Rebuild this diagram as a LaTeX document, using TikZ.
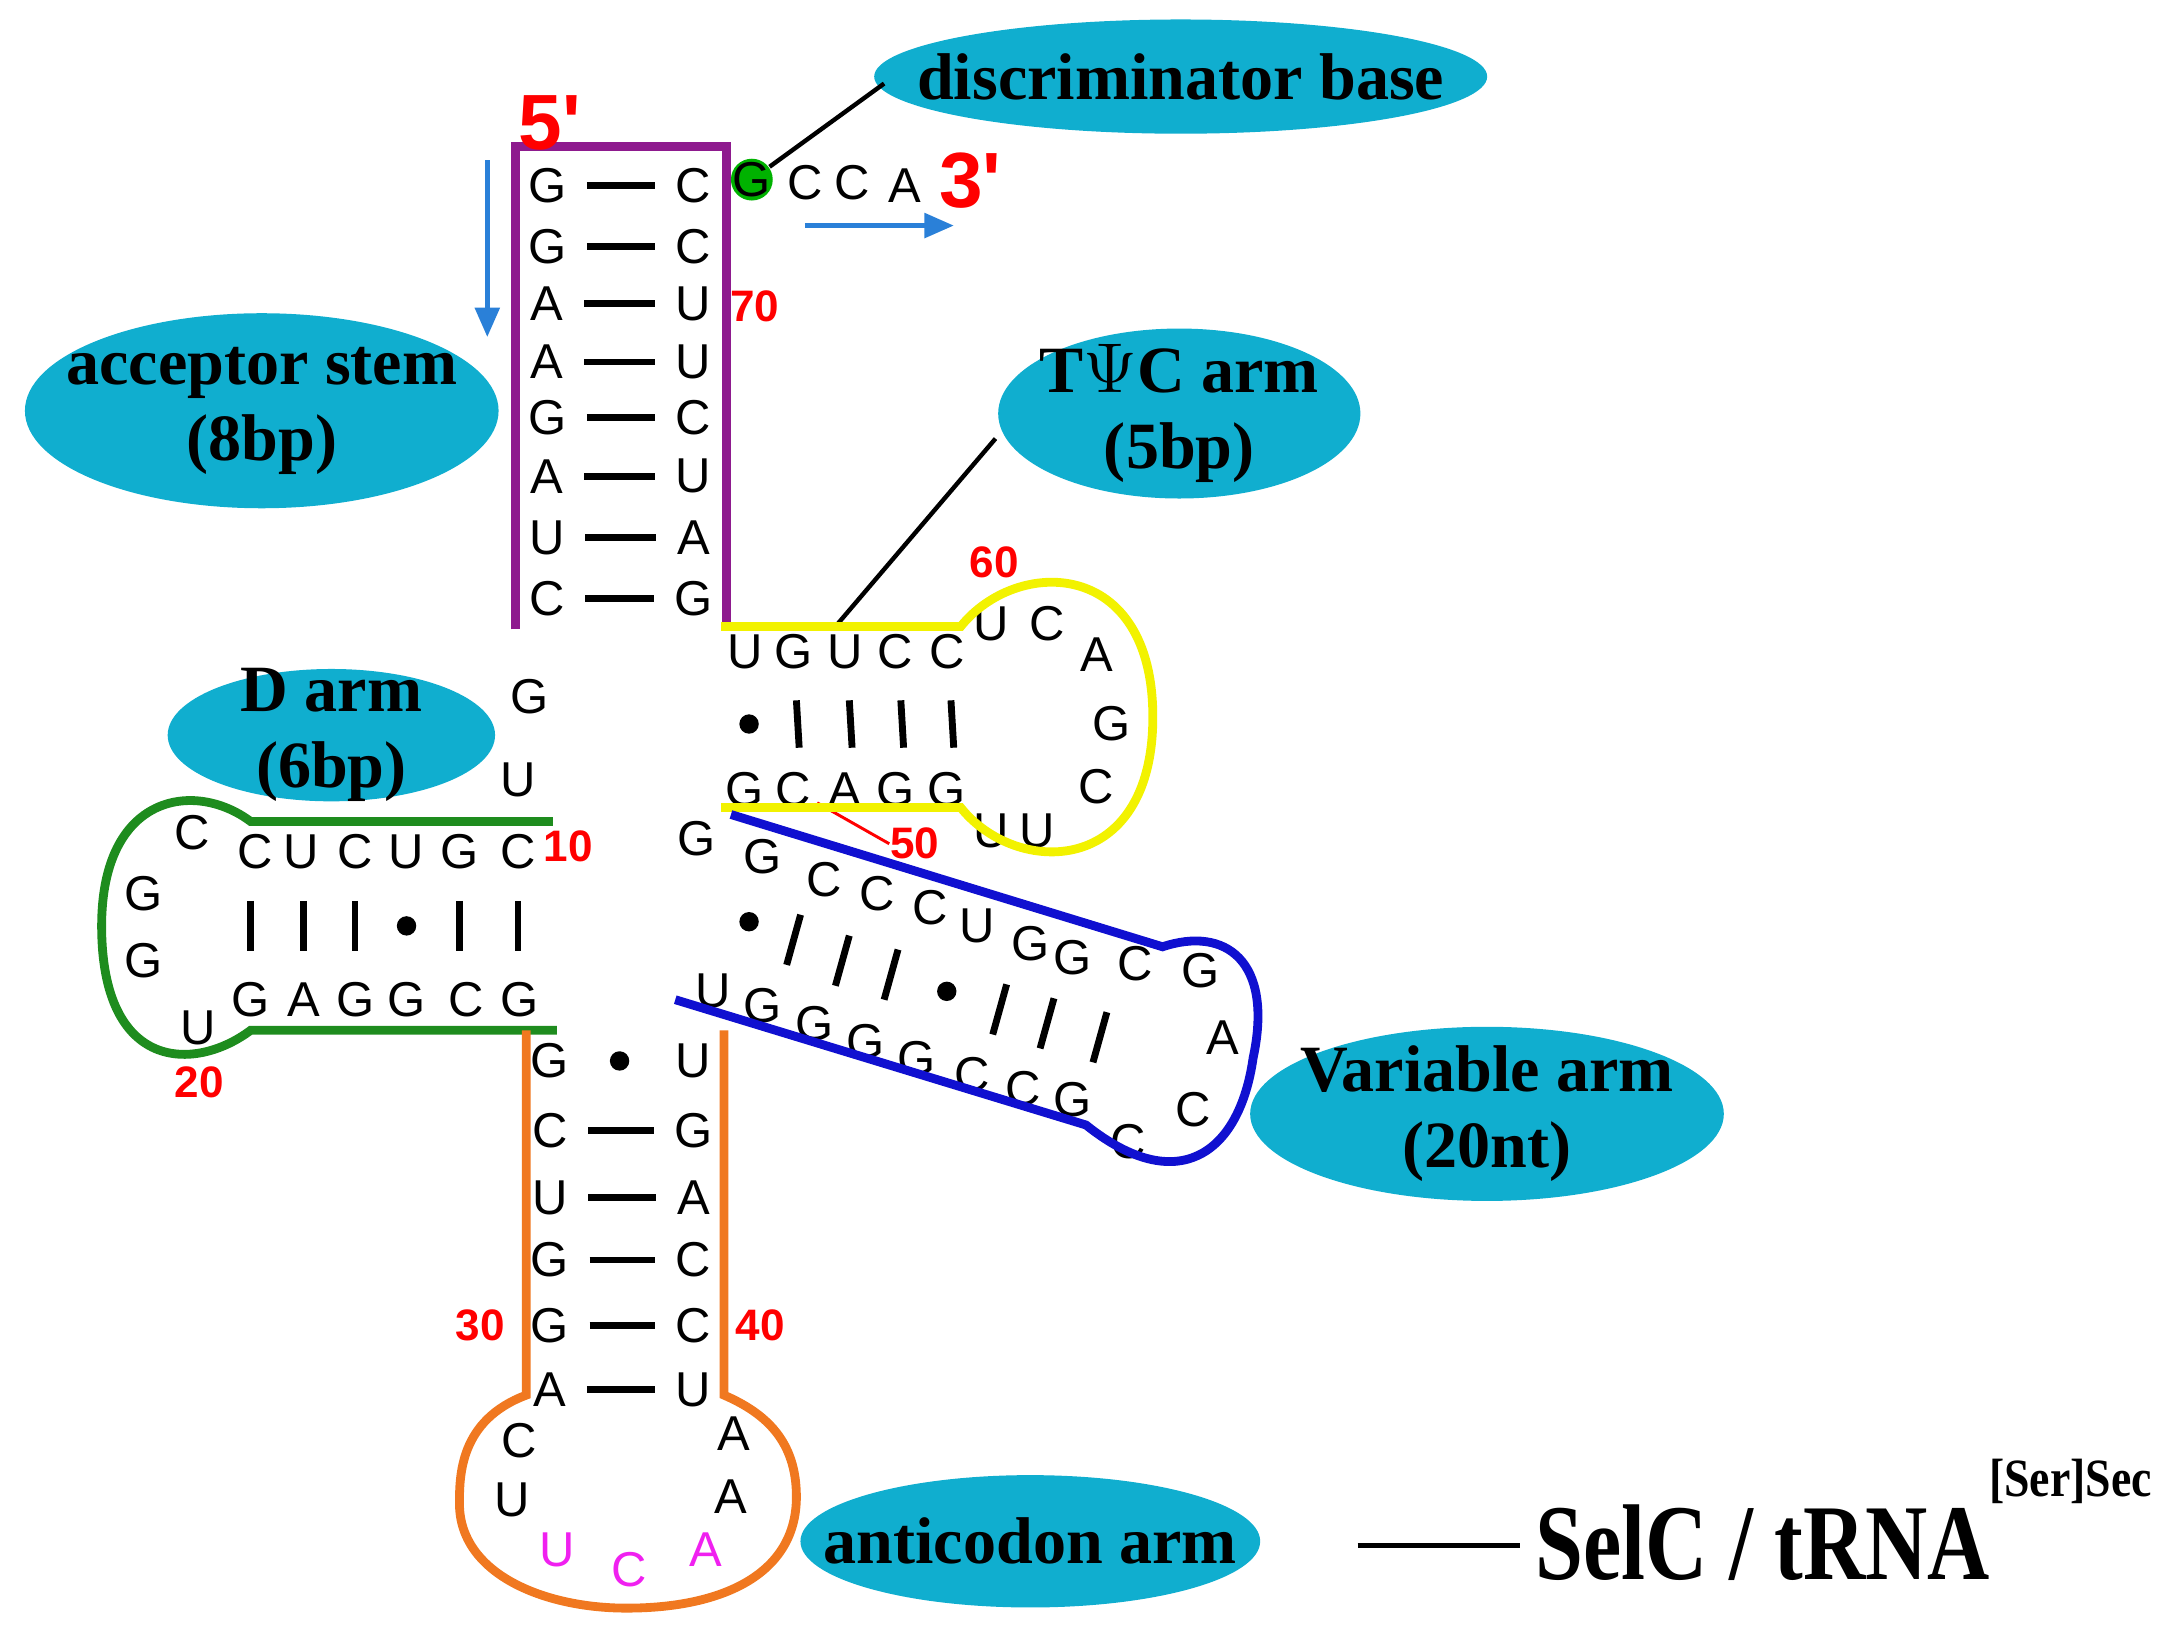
\documentclass[tikz,border=0pt]{standalone}
\usepackage{fontspec}
\setmainfont{Liberation Serif}
\newfontfamily\basefont{Liberation Sans}
\usetikzlibrary{arrows.meta,shapes.geometric}
\definecolor{cyanb}{HTML}{10AECF}
\definecolor{purp}{HTML}{8E1A8E}
\definecolor{gr}{HTML}{1E8C1E}
\definecolor{yel}{HTML}{F2F200}
\definecolor{blu}{HTML}{1010D0}
\definecolor{ora}{HTML}{F07820}
\definecolor{mag}{HTML}{F020F0}
\definecolor{arr}{HTML}{2A80D8}
\tikzset{
 b/.style={font=\basefont\fontsize{10}{11}\selectfont, inner sep=1pt},
 num/.style={font=\basefont\bfseries\fontsize{9}{10}\selectfont, text=red, inner sep=0pt},
 ell/.style={ellipse, fill=cyanb, inner sep=0pt},
 labt/.style={font=\bfseries\fontsize{13.5}{15.5}\selectfont, align=center, inner sep=0pt},
 bond/.style={line width=1.4pt, shorten <=3pt, shorten >=3pt},
 wc/.style={line width=1.8pt},
 lead/.style={line width=0.9pt},
 dotn/.style={circle, fill=black, inner sep=1.4pt},
}
\begin{document}
\begin{tikzpicture}[x=0.01cm,y=-0.01cm]
\useasboundingbox (0,0) rectangle (1560,1175);
% acceptor stem
\foreach \l/\r/\y [count=\i] in {G/C/133,G/C/177,A/U/218,A/U/260,G/C/300,A/U/342,U/A/386,C/G/430}{
 \node[b] (al\i) at (393,\y) {\l};
 \node[b] (ar\i) at (498,\y) {\r};
 \draw[bond] (al\i) -- (ar\i);
}
\draw[wc,purp] (370,452) -- (370,105) -- (522,105) -- (522,452);
\node[font=\basefont\bfseries\fontsize{16}{18}\selectfont,text=red] (p5) at (395,88) {5'};
\node[circle,fill=green!70!black,minimum size=0.3cm,inner sep=0pt] (gdisc) at (540,129) {};
\node[b] (g73) at (540,129) {G};
\node[b] (c74) at (578,131) {C};
\node[b] (c75) at (612,131) {C};
\node[b] (a76) at (650,133) {A};
\node[font=\basefont\bfseries\fontsize{16}{18}\selectfont,text=red] (p3) at (697,130) {3'};
\coordinate (a1s) at (350,115); \coordinate (a1e) at (350,242);
\coordinate (a2s) at (578,162); \coordinate (a2e) at (685,162);
\draw[arr,line width=0.9pt,-{Triangle[length=6pt,width=5pt]}] (a1s) -- (a1e);
\draw[arr,line width=0.9pt,-{Triangle[length=6pt,width=5pt]}] (a2s) -- (a2e);
\node[num] (n70) at (542,220) {70};
\node[ell,minimum width=4.4cm,minimum height=0.82cm] (ldisc) at (848,55) {};
\node[labt] at (ldisc) {discriminator base};
\coordinate (dsc) at (635,60);
\draw[lead] (gdisc) -- (dsc);
\node[ell,minimum width=3.4cm,minimum height=1.4cm] (lacc) at (188,295) {};
\node[labt] at (lacc) {acceptor stem\\(8bp)};
\node[ell,minimum width=2.6cm,minimum height=1.22cm] (ltpc) at (847,297) {};
\node[labt] at (ltpc) {T$\Psi$C arm\\(5bp)};
\coordinate (tpcpt) at (600,450); \coordinate (tpce) at (715,315);
\draw[lead] (tpcpt) -- (tpce);
% T arm
\foreach \t/\u/\x [count=\i] in {U/G/535,G/C/570,U/A/607,C/G/643,C/G/680}{
 \node[b] (tt\i) at (\x,468) {\t};
 \node[b] (tb\i) at (\x,567) {\u};
}
\node[dotn] (td1) at (538,520) {};
\foreach \x in {572,610,647,683}{\draw[line width=1.4pt] (\x,503) -- (\x+2,537);}
\node[b] (tl1) at (712,448) {U}; \node[b] (tl2) at (752,448) {C};
\node[b] (tl3) at (788,470) {A}; \node[b] (tl4) at (798,520) {G};
\node[b] (tl5) at (787,565) {C}; \node[b] (tl6) at (745,597) {U};
\node[b] (tl7) at (712,597) {U};
\node[num] (n60) at (714,404) {60};
\node[num] (n50) at (657,606) {50};
\draw[red,line width=0.6pt] (tb2) -- (n50.west);
\draw[wc,yel] (518,450) -- (690,450) .. controls (730,400) and (828,400) .. (828,515) .. controls (828,630) and (730,630) .. (690,580) -- (518,580);
% D arm
\node[ell,minimum width=2.35cm,minimum height=0.95cm] (ld) at (238,528) {};
\node[labt] at (ld) {D arm\\(6bp)};
\node[b] (g8) at (380,500) {G};
\node[b] (u9) at (372,560) {U};
\foreach \t/\x [count=\i] in {C/183,U/216,C/255,U/292,G/330,C/372}{\node[b] (dt\i) at (\x,612) {\t};}
\foreach \t/\x [count=\i] in {G/180,A/218,G/255,G/292,C/335,G/373}{\node[b] (db\i) at (\x,718) {\t};}
\foreach \x in {180,218,255,330,372}{\draw[line width=1.4pt] (\x,647) -- (\x,683);}
\node[dotn] (dd) at (292,665) {};
\node[b] (dc) at (138,598) {C};
\node[b] (dl1) at (103,642) {G}; \node[b] (dl2) at (103,690) {G};
\node[b] (dl3) at (142,738) {U};
\node[num] (n10) at (408,608) {10};
\node[num] (n20) at (143,777) {20};
\draw[wc,gr] (397,590) -- (180,590) .. controls (140,560) and (73,570) .. (73,665) .. controls (73,770) and (140,770) .. (180,740) -- (400,740);
% variable arm
\node[b] (g26) at (500,602) {G};
\foreach \t/\x/\y [count=\i] in {G/548/615,C/592/632,C/630/642,C/668/652,U/702/665,G/740/678,G/770/688,C/815/692,G/862/697}{\node[b] (vt\i) at (\x,\y) {\t};}
\foreach \t/\x/\y [count=\i] in {U/512/712,G/548/722,G/585/735,G/622/748,G/658/760,C/698/772,C/735/782,G/770/790}{\node[b] (vb\i) at (\x,\y) {\t};}
\node[dotn] (vd1) at (538,662) {};
\node[dotn] (vd2) at (680,712) {};
\foreach \x/\y in {570/675,605/690,640/700,718/725,752/735,790/745}{\draw[line width=1.4pt] (\x+5,\y-18) -- (\x-5,\y+18);}
\node[b] (vl1) at (878,745) {A}; \node[b] (vl2) at (857,797) {C};
\node[b] (vl3) at (810,820) {C};
\draw[wc,blu] (525,585) -- (835,680) .. controls (880,665) and (915,690) .. (900,760) .. controls (890,830) and (845,860) .. (780,808) -- (485,718);
\node[ell,minimum width=3.4cm,minimum height=1.25cm] (lvar) at (1068,800) {};
\node[labt] at (lvar) {Variable arm\\(20nt)};
% anticodon stem
\foreach \l/\r/\y [count=\i] in {G/U/762,C/G/812,U/A/860,G/C/905,G/C/952,A/U/998}{
 \node[b] (cl\i) at (395,\y) {\l};
 \node[b] (cr\i) at (498,\y) {\r};
}
\node[dotn] (cd) at (445,762) {};
\foreach \i in {2,...,6}{\draw[bond] (cl\i) -- (cr\i);}
\node[num] (n30) at (345,952) {30};
\node[num] (n40) at (546,952) {40};
\node[b] (cp1) at (373,1035) {C}; \node[b] (cp2) at (368,1077) {U};
\node[b,text=mag] (cp3) at (400,1113) {U}; \node[b,text=mag] (cp4) at (452,1127) {C};
\node[b,text=mag] (cp5) at (507,1113) {A}; \node[b] (cp6) at (525,1075) {A};
\node[b] (cp7) at (527,1030) {A};
\draw[wc,ora] (378,740) -- (378,1002) .. controls (330,1020) and (330,1060) .. (330,1080) .. controls (330,1130) and (390,1155) .. (450,1155) .. controls (520,1155) and (572,1130) .. (572,1075) .. controls (572,1035) and (550,1015) .. (520,1002) -- (520,740);
\node[ell,minimum width=3.3cm,minimum height=0.95cm] (lanti) at (740,1107) {};
\node[labt] at (lanti) {anticodon arm};
\coordinate (ls) at (975,1110); \coordinate (le) at (1092,1110);
\draw[line width=1.2pt] (ls) -- (le);
\node[font=\bfseries\fontsize{22}{24}\selectfont,inner sep=0pt,xscale=0.8] (title) at (1266,1108) {SelC / tRNA};
\node[font=\bfseries\fontsize{11}{12}\selectfont,inner sep=0pt,xscale=0.85] (sup) at (1487,1064) {[Ser]Sec};
\end{tikzpicture}
\end{document}
